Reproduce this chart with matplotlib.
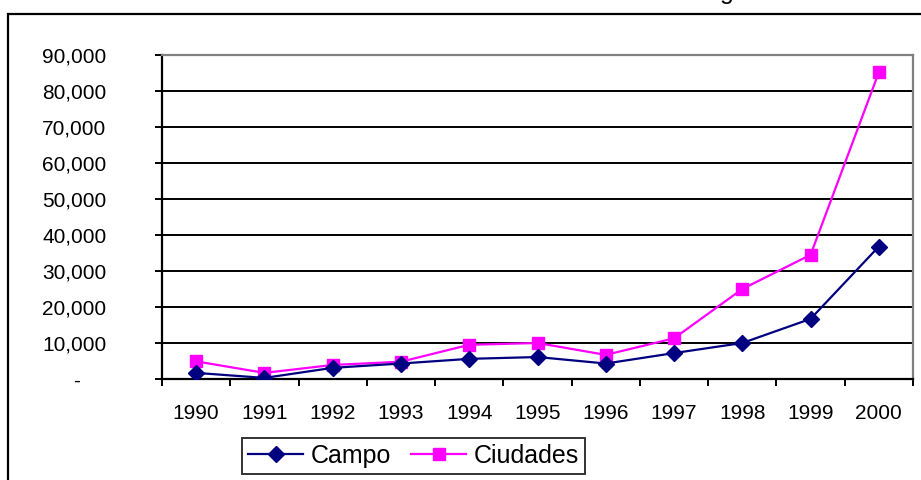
import matplotlib
matplotlib.use("Agg")
import matplotlib.pyplot as plt
from matplotlib.patches import Rectangle
from matplotlib.transforms import ScaledTranslation

plt.rcParams['font.family'] = ['Liberation Sans', 'DejaVu Sans']

years = ["1990", "1991", "1992", "1993", "1994", "1995", "1996", "1997", "1998", "1999", "2000"]
campo = [1700, 300, 3100, 4300, 5600, 6100, 4300, 7200, 10000, 16700, 36800]
ciudades = [4900, 1700, 3900, 4800, 9500, 10000, 6700, 11300, 25000, 34500, 85200]
yticks = [0, 10000, 20000, 30000, 40000, 50000, 60000, 70000, 80000, 90000]
ytick_labels = ["-", "10,000", "20,000", "30,000", "40,000", "50,000",
                "60,000", "70,000", "80,000", "90,000"]

W, H = 921, 480
fig = plt.figure(figsize=(W / 100, H / 100), dpi=100)

# outer chart border (extends past right/bottom edges)
fig.add_artist(Rectangle((8 / W, -0.1), 1.2, 1 - 14 / H + 0.1, transform=fig.transFigure,
                         fill=False, edgecolor='black', linewidth=1.6))
# clipped title descender
fig.text(727 / W, 1 + 1 / H, "g", ha='center', va='baseline', fontsize=18)

left, right, top, bottom = 162, 913, 55, 379
ax = fig.add_axes([left / W, 1 - bottom / H, (right - left) / W, (bottom - top) / H])

x = list(range(len(years)))
ax.plot(x, campo, color='#000080', marker='D', markersize=8, linewidth=1.6,
        label='Campo', zorder=4)
ax.plot(x, ciudades, color='#FF00FF', marker='s', markersize=8, linewidth=1.6,
        label='Ciudades', zorder=3)

ax.set_xlim(-0.5, len(years) - 0.5)
ax.set_ylim(0, 90000)

for v in yticks[1:-1]:
    ax.axhline(v, color='black', linewidth=1.4, zorder=1)

ax.set_yticks(yticks)
ax.set_yticklabels(ytick_labels)
ax.tick_params(axis='y', direction='out', length=5, width=1.4, pad=35, labelsize=15)

ax.set_xticks([i - 0.5 for i in range(len(years) + 1)])
ax.set_xticklabels([])
ax.set_xticks(x, minor=True)
ax.set_xticklabels(years, minor=True)
ax.tick_params(axis='x', which='major', direction='out', length=5, width=1.4)
ax.tick_params(axis='x', which='minor', length=0, pad=18, labelsize=15)

# shift the "-" label left like an accounting format
dash = ax.get_yticklabels()[0]
dash.set_transform(dash.get_transform() + ScaledTranslation(-26 / 100, 0, fig.dpi_scale_trans))

for s in ['left', 'bottom']:
    ax.spines[s].set_color('black')
    ax.spines[s].set_linewidth(1.6)
for s in ['top', 'right']:
    ax.spines[s].set_color('#808080')
    ax.spines[s].set_linewidth(1.6)

leg = fig.legend(loc='center', bbox_to_anchor=((243 + 584) / 2 / W, 1 - 456 / H),
                 ncol=2, fontsize=18, frameon=True, fancybox=False, edgecolor='black',
                 handlelength=2.2, handletextpad=0.3, columnspacing=0.8,
                 borderpad=0.25, borderaxespad=0)
leg.get_frame().set_linewidth(1.4)

fig.savefig("out.png", dpi=100)
